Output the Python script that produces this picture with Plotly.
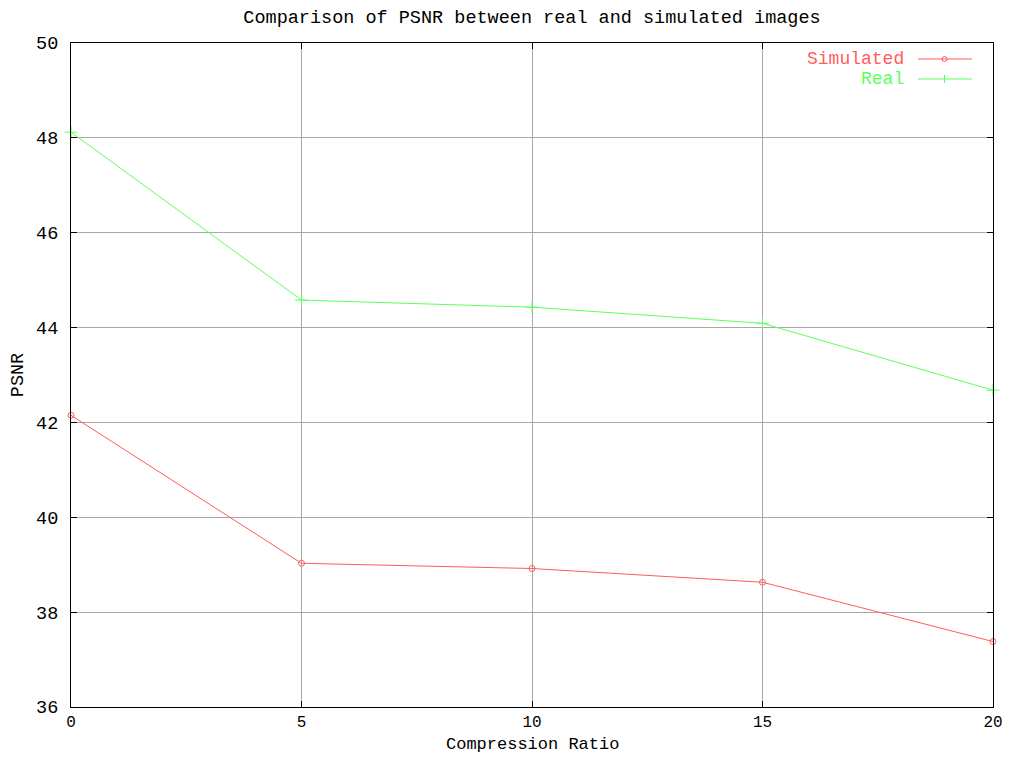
import plotly.graph_objects as go

compression_ratio = [0, 5, 10, 15, 20]
psnr_simulated = [42.15, 39.03, 38.92, 38.63, 37.38]
psnr_real = [48.12, 44.58, 44.43, 44.09, 42.68]

x_ticks = [0, 5, 10, 15, 20]
y_ticks = [36, 38, 40, 42, 44, 46, 48, 50]

RED = "#ff5c5c"
GREEN = "#5cff5c"
FONT = "Liberation Mono"
FS = 18.5

fig = go.Figure()
fig.add_trace(go.Scatter(
    x=compression_ratio, y=psnr_simulated, mode="lines+markers", name="Simulated",
    line=dict(color=RED, width=1),
    marker=dict(symbol="circle-open", size=6, color=RED, line=dict(width=1, color=RED)),
    showlegend=False, cliponaxis=False,
))
fig.add_trace(go.Scatter(
    x=compression_ratio, y=psnr_real, mode="lines+markers", name="Real",
    line=dict(color=GREEN, width=1),
    marker=dict(symbol="cross-thin-open", size=9, color=GREEN, line=dict(width=1, color=GREEN)),
    showlegend=False, cliponaxis=False,
))

# page has an 8px body margin; target plot box in screen pixels
OFF = 8
L, R, T, B = 71, 993, 43, 707
W, H = float(R - L), float(B - T)

def px(xp):
    return (xp - L) / W

def py(yp):
    return (B - yp) / H

key = [("Simulated", RED, 59, "circle"), ("Real", GREEN, 79, "plus")]
shapes = []
annotations = []
for name, col, ypix, mk in key:
    annotations.append(dict(xref="paper", yref="paper", x=px(906), y=py(ypix), text=name,
                            showarrow=False, xanchor="right", yanchor="middle",
                            font=dict(family=FONT, size=18, color=col)))
    shapes.append(dict(type="line", xref="paper", yref="paper", x0=px(918), x1=px(972),
                       y0=py(ypix), y1=py(ypix), line=dict(color=col, width=1)))
    if mk == "circle":
        shapes.append(dict(type="circle", xref="paper", yref="paper", x0=px(942), x1=px(947),
                           y0=py(ypix - 2.5), y1=py(ypix + 2.5), line=dict(color=col, width=1)))
    else:
        shapes.append(dict(type="line", xref="paper", yref="paper", x0=px(944.5), x1=px(944.5),
                           y0=py(ypix - 4), y1=py(ypix + 4), line=dict(color=col, width=1)))

# x-axis title placed as gnuplot does, centred under the plot box
annotations.append(dict(xref="paper", yref="paper", x=0.5, y=py(744), text="Compression Ratio",
                        showarrow=False, xanchor="center", yanchor="middle",
                        font=dict(family=FONT, size=17, color="black")))

fig_w, fig_h = 1010 - OFF, 762 - 2 * OFF
fig.update_layout(
    width=fig_w, height=fig_h,
    margin=dict(l=L - OFF, r=fig_w + OFF - R, t=T - OFF, b=fig_h + OFF - B, pad=0, autoexpand=False),
    paper_bgcolor="white", plot_bgcolor="white",
    font=dict(family=FONT, size=FS, color="black"),
    title=dict(text="Comparison of PSNR between real and simulated images",
               xref="paper", x=0.5, xanchor="center",
               yref="container", y=1 - (17 - OFF) / fig_h, yanchor="middle",
               font=dict(family=FONT, size=FS, color="black")),
    shapes=shapes, annotations=annotations,
    showlegend=False,
)
fig.update_xaxes(
    range=[0, 20], tickvals=x_ticks, ticktext=[str(v) for v in x_ticks],
    showgrid=True, gridcolor="#a8a8a8", gridwidth=1,
    showline=True, linecolor="black", linewidth=1, mirror="ticks",
    ticks="inside", ticklen=6, tickcolor="black", zeroline=False,
    automargin=False, ticklabelstandoff=0, ticklabeloverflow="allow",
    tickfont=dict(family=FONT, size=16),
)
fig.update_yaxes(
    range=[36, 50], tickvals=y_ticks, ticktext=[str(v) for v in y_ticks],
    showgrid=True, gridcolor="#a8a8a8", gridwidth=1,
    showline=True, linecolor="black", linewidth=1, mirror="ticks",
    ticks="inside", ticklen=6, tickcolor="black", zeroline=False,
    automargin=False, ticklabelstandoff=8, ticklabeloverflow="allow",
    title=dict(text="PSNR", standoff=10, font=dict(family=FONT, size=FS)),
    tickfont=dict(family=FONT, size=FS),
)

fig.write_html("out.html")
